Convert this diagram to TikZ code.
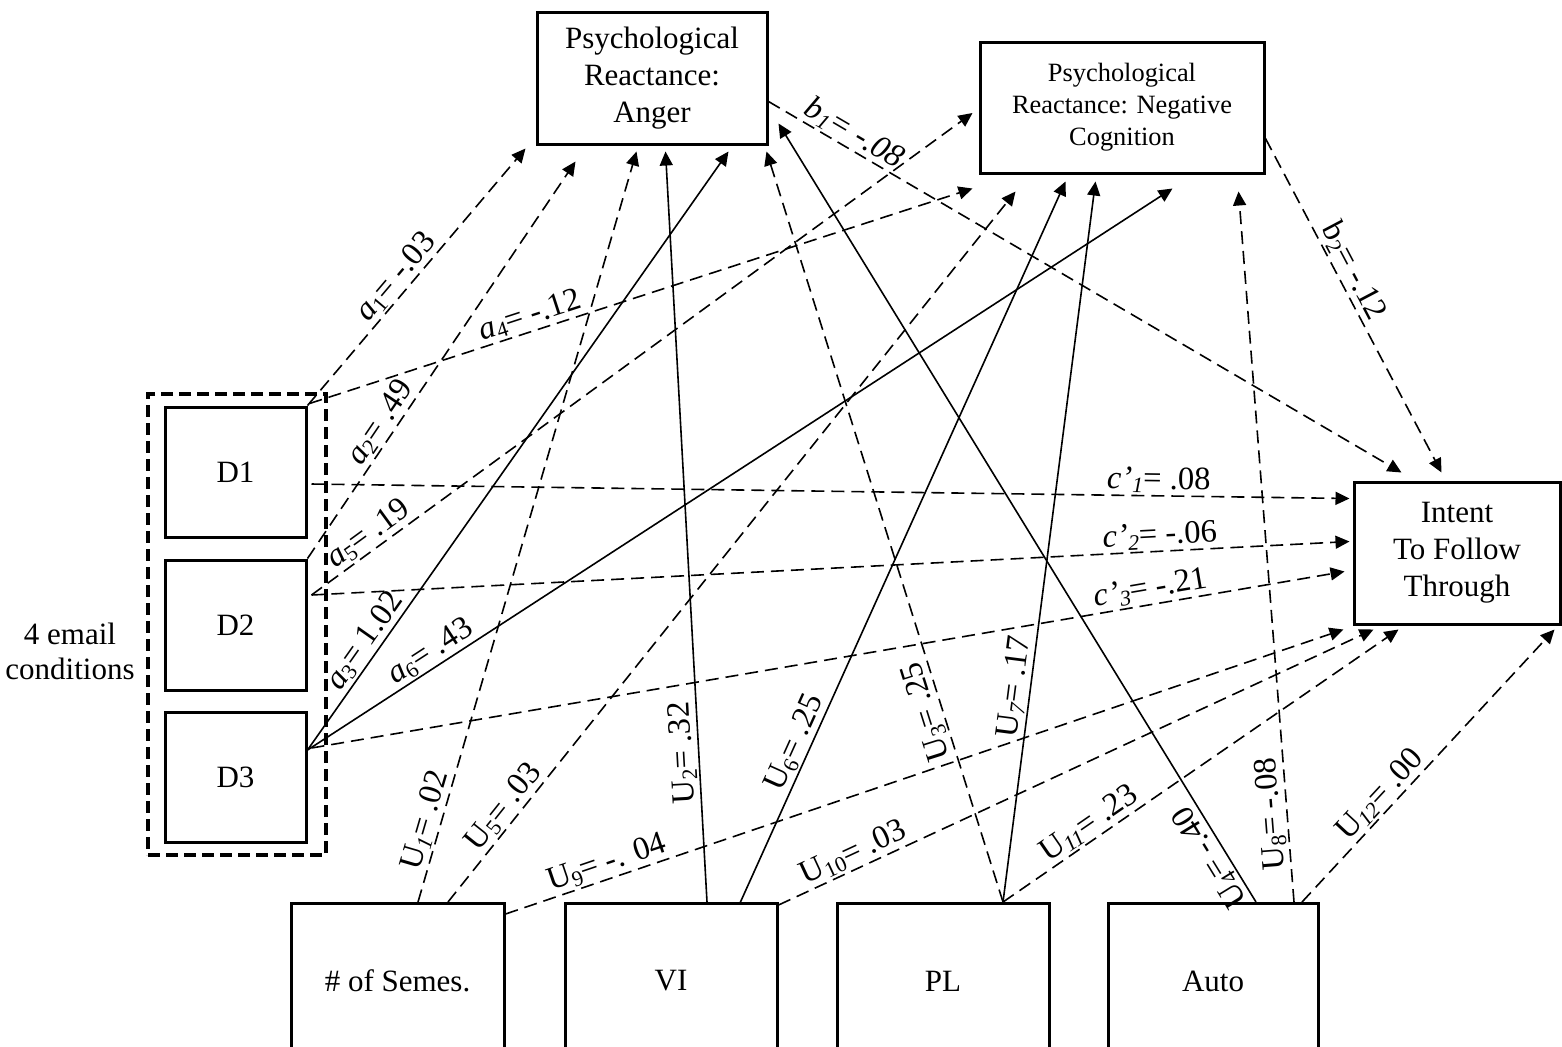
\documentclass[tikz,border=0pt]{standalone}
\usepackage{fontspec}
\setmainfont{Liberation Serif}
\usetikzlibrary{arrows.meta,calc}
\newcommand\sbs[1]{\raisebox{-0.28ex}{\fontsize{11}{12}\selectfont #1}}
\begin{document}
\begin{tikzpicture}[x=0.5pt,y=-0.5pt,
  box/.style={draw, line width=1.5pt, align=center, inner sep=0pt, font=\fontsize{15.5}{18.5}\selectfont},
  conn/.style={line width=0.8pt, -{Triangle[length=7pt,width=6.5pt]}},
  dsh/.style={conn, dash pattern=on 6.5pt off 3.5pt},
  lab/.style={sloped, allow upside down, above, inner sep=1pt, font=\fontsize{16.3}{18}\selectfont},
]
\useasboundingbox (0,0) rectangle (1562,1046);
\clip (0,0) rectangle (1562,1046);

% boxes
\node[box, minimum width=115pt, minimum height=66pt] (anger) at (652,78) {Psychological\\Reactance:\\Anger};
\node[box, minimum width=142pt, minimum height=65.5pt, font=\fontsize{13.2}{16}\selectfont] (negcog) at (1122,107.5) {Psychological\\Reactance: Negative\\Cognition};
\node[box, minimum width=103pt, minimum height=71pt] (intent) at (1457,553) {Intent\\To Follow\\Through};
\node[box, minimum width=70.5pt, minimum height=65pt] (d1) at (235.5,472) {D1};
\node[box, minimum width=70.5pt, minimum height=65pt] (d2) at (235.5,625) {D2};
\node[box, minimum width=70.5pt, minimum height=65pt] (d3) at (235.5,777) {D3};
\node[draw, line width=2pt, dash pattern=on 6pt off 3pt, minimum width=89pt, minimum height=230.5pt] (grp) at (237,624.5) {};
\node[align=center, inner sep=0pt, font=\fontsize{15.5}{17.5}\selectfont] (cond) at (70,651) {4 email\\conditions};
\node[box, minimum width=106.5pt, minimum height=77.5pt] (sem) at (397.5,981) {\# of Semes.};
\node[box, minimum width=106pt, minimum height=77.5pt] (vi) at (671,981) {VI};
\node[box, minimum width=106pt, minimum height=77.5pt] (pl) at (943,981) {PL};
\node[box, minimum width=105pt, minimum height=77.5pt] (auto) at (1213,981) {Auto};

% a paths
\draw[dsh] (d1.north east) -- node[lab, pos=0.46] {\textit{a}\sbs{1}= -.03} ([shift={(-10,3)}]anger.south west);
\draw[dsh] (d2.north east) -- node[lab, pos=0.32] {\textit{a}\sbs{2}= .49} ([shift={(40,16)}]anger.south west);
\draw[conn] ([shift={(0,-27)}]d3.east) -- node[lab, pos=0.167] {\textit{a}\sbs{3}= 1.02} ([shift={(193,6)}]anger.south west);
\draw[dsh] ([shift={(2,-2)}]d1.north east) -- node[lab, pos=0.34] {\textit{a}\sbs{4}= -.12} ([shift={(-6,14)}]negcog.south west);
\draw[dsh] ([shift={(4,-30)}]d2.east) -- node[lab, pos=0.1] {\textit{a}\sbs{5}= .19} ([shift={(-6,5.5)}]negcog.west);
\draw[conn] ([shift={(0,-27)}]d3.east) -- node[lab, pos=0.152] {\textit{a}\sbs{6}= .43} ([shift={(194,14)}]negcog.south west);

% b paths
\draw[dsh] ([shift={(0,-44)}]anger.south east) -- node[lab, pos=0.123] {\textit{b\sbs{1}= -.08}} ([shift={(49,-8)}]intent.north west);
\draw[dsh] ([shift={(0,-36)}]negcog.south east) -- node[lab, pos=0.42] {b\sbs{2}= -.12} ([shift={(89,-8)}]intent.north west);

% c' paths
\draw[dsh] ([shift={(4,12)}]d1.east) -- node[lab, pos=0.816] {\textit{c’}\sbs{\textit{1}}= .08} ([shift={(-3,18)}]intent.north west);
\draw[dsh] ([shift={(4,-30)}]d2.east) -- node[lab, pos=0.818] {\textit{c’}\sbs{\textit{2}}= -.06} ([shift={(-3,61)}]intent.north west);
\draw[dsh] ([shift={(4,-29)}]d3.east) -- node[lab, pos=0.815] {\textit{c’}\sbs{\textit{3}}= -.21} ([shift={(-8,91)}]intent.north west);

% U paths
\draw[dsh] ([shift={(20.5,0)}]sem.north) -- node[lab, pos=0.103] {U\sbs{\textit{1}}= .02} ([shift={(101,6)}]anger.south west);
\draw[conn] ([shift={(36,0)}]vi.north) -- node[lab, pos=0.2] {U\sbs{2}= .32} ([shift={(130,6)}]anger.south west);
\draw[dsh] ([shift={(60,0)}]pl.north) -- node[lab, pos=0.26] {U\sbs{3}= .25} ([shift={(-2,6)}]anger.south east);
\draw[conn] ([shift={(43,0)}]auto.north) -- node[lab, pos=0.068] {U\sbs{4}= -.40} ([shift={(10,-22)}]anger.south east);
\draw[dsh] ([shift={(50.5,0)}]sem.north) -- node[lab, pos=0.12] {U\sbs{5}= .03} ([shift={(37,17)}]negcog.south west);
\draw[conn] ([shift={(69,1)}]vi.north) -- node[lab, pos=0.213] {U\sbs{6}= .25} ([shift={(87,7)}]negcog.south west);
\draw[conn] ([shift={(60,0)}]pl.north) -- node[lab, pos=0.296] {U\sbs{\textit{7}}= .17} ([shift={(117,7)}]negcog.south west);
\draw[dsh] ([shift={(81,0)}]auto.north) -- node[lab, pos=0.126] {U\sbs{8}= -.08} ([shift={(260,17)}]negcog.south west);
\draw[dsh] ([shift={(0,12)}]sem.north east) -- node[lab, pos=0.127] {U\sbs{9}= -. 04} ([shift={(-9,4)}]intent.south west);
\draw[dsh] ([shift={(0,3)}]vi.north east) -- node[lab, pos=0.137] {U\sbs{10}= .03} ([shift={(21,4)}]intent.south west);
\draw[dsh] ([shift={(60,0)}]pl.north) -- node[lab, pos=0.24] {U\sbs{\textit{11}}= .23} ([shift={(46,4)}]intent.south west);
\draw[dsh] ([shift={(89,0)}]auto.north) -- node[lab, pos=0.355] {U\sbs{\textit{12}}= .00} ([shift={(-7,4)}]intent.south east);
\end{tikzpicture}
\end{document}
